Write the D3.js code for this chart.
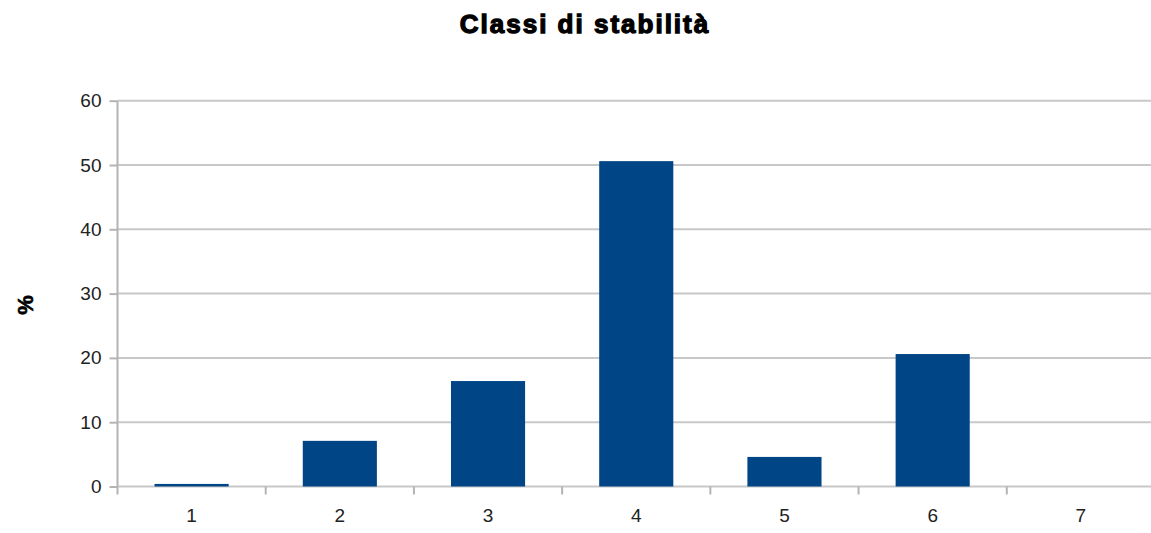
<!DOCTYPE html>
<html><head><meta charset="utf-8">
<script src="https://cdn.jsdelivr.net/npm/d3@7"></script>
<style>body{margin:0;background:#fff}svg{display:block}</style>
</head><body>
<script>
const categories = ["1","2","3","4","5","6","7"];
const values = [0.4, 7.1, 16.4, 50.6, 4.6, 20.6, 0];
const yTicks = [0,10,20,30,40,50,60];
const title = "Classi di stabilità";
const yLabel = "%";

(function(){
const W = 1151, H = 533;
const pL = 117.5, pR = 1155, pT = 100.7, pB = 486.5;
const FONT = "'Liberation Sans', Arial, sans-serif";
const svg = d3.select("body").append("svg").attr("width", W).attr("height", H);

const x = d3.scaleBand().domain(categories).range([pL, pR]).paddingInner(0).paddingOuter(0);
const y = d3.scaleLinear().domain([0, 60]).range([pB, pT]);

// gridlines
svg.append("g").selectAll("line").data(yTicks).join("line")
  .attr("x1", pL).attr("x2", W).attr("y1", d => y(d)).attr("y2", d => y(d))
  .attr("stroke", "#c8c8c8").attr("stroke-width", 2);

// y axis
const ya = svg.append("g").attr("transform", `translate(${pL},0)`)
  .call(d3.axisLeft(y).tickValues(yTicks).tickSize(8).tickPadding(8));
ya.select(".domain").remove();
ya.append("line").attr("x1",0).attr("x2",0).attr("y1",pT).attr("y2",pB+8).attr("stroke","#b4b4b4").attr("stroke-width",2);
ya.selectAll(".tick line").attr("stroke", "#b4b4b4").attr("stroke-width", 2);
ya.selectAll(".tick text").attr("font-family",FONT).attr("font-size",19).attr("fill","#222");

// bars
svg.append("g").selectAll("rect").data(values).join("rect")
  .attr("x", (d,i) => x(categories[i]) + x.bandwidth()*0.25)
  .attr("width", x.bandwidth()*0.5)
  .attr("y", d => y(d)).attr("height", d => y(0) - y(d))
  .attr("fill", "#004586");

// x axis
const xa = svg.append("g").attr("transform", `translate(0,${pB})`)
  .call(d3.axisBottom(x).tickSize(0).tickPadding(22));
xa.select(".domain").remove();
xa.selectAll(".tick text").attr("font-family",FONT).attr("font-size",19).attr("fill","#222");
svg.append("g").selectAll("line").data(categories.slice(1)).join("line")
  .attr("x1", d => x(d)).attr("x2", d => x(d)).attr("y1", pB).attr("y2", pB+8)
  .attr("stroke","#b4b4b4").attr("stroke-width",2);

// title
svg.append("text").attr("x", 585).attr("y", 33).attr("text-anchor","middle")
  .attr("font-family",FONT).attr("font-weight","bold").attr("font-size",26)
  .attr("letter-spacing", 2)
  .attr("stroke","#000").attr("stroke-width",1.3)
  .text(title);

// y label
svg.append("text").attr("transform","translate(33,305) rotate(-90)").attr("text-anchor","middle")
  .attr("font-family",FONT).attr("font-weight","bold").attr("font-size",22)
  .attr("stroke","#000").attr("stroke-width",0.6)
  .text(yLabel);
})();
</script>
</body></html>
